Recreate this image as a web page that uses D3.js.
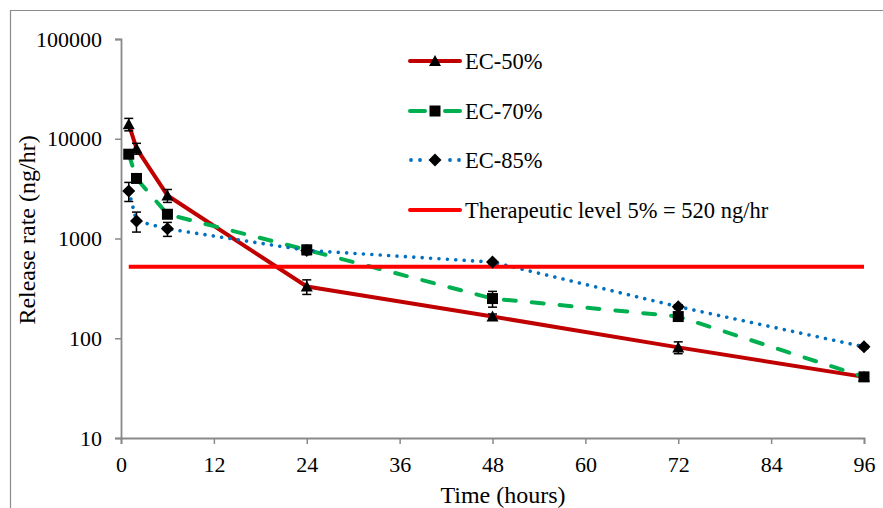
<!DOCTYPE html>
<html>
<head>
<meta charset="utf-8">
<script src="https://cdn.jsdelivr.net/npm/d3@7"></script>
<style>
  html, body { margin: 0; padding: 0; background: #fff; }
  svg { display: block; }
  svg text { font-family: "Liberation Serif", "Times New Roman", Times, Tinos, "DejaVu Serif", serif !important; fill: #000; }
</style>
</head>
<body>
<svg id="chart" width="883" height="508"></svg>
<script>
// ---- Data ----
const hours = [1, 2, 6, 24, 48, 72, 96];
const ec50 = [14000, 8000, 2700, 330, 165, 81, 41];
const ec50Err = [2000, 1000, 400, 55, 10, 11, 2];
const ec70 = [7000, 4000, 1750, 770, 250, 165, 41];
const ec70Err = [400, 300, 150, 80, 45, 12, 3];
const ec85 = [3000, 1500, 1250, 760, 580, 207, 82];
const ec85Err = [650, 340, 200, 60, 20, 10, 3];
const therapeuticLevel = 520;
const therapeuticHours = [1, 96];
const xTicks = [0, 12, 24, 36, 48, 60, 72, 84, 96];
const yTicks = [10, 100, 1000, 10000, 100000];
const seriesNames = ["EC-50%", "EC-70%", "EC-85%"];
const therapeuticName = "Therapeutic level 5% = 520 ng/hr";
const xTitle = "Time (hours)";
const yTitle = "Release rate (ng/hr)";

const FONT = "'Liberation Serif', 'Times New Roman', Times, Tinos, 'DejaVu Serif', serif";

const series = [
  { name: seriesNames[0], values: ec50, err: ec50Err, color: "#C00000", dash: null, marker: "triangle" },
  { name: seriesNames[1], values: ec70, err: ec70Err, color: "#00B050", dash: "12 16", marker: "square" },
  { name: seriesNames[2], values: ec85, err: ec85Err, color: "#0070C0", dash: "0.01 8.4", marker: "diamond" }
];

const svg = d3.select("#chart");
const x = d3.scaleLinear().domain([0, 96]).range([121, 864]);
const y = d3.scaleLog().domain([10, 100000]).range([438, 39]);
const axisColor = "#898989";

// outer chart border (partially visible)
svg.append("path").attr("d", "M10.5,508 V10.5 H883")
  .attr("fill", "none").attr("stroke", "#8c8c8c").attr("stroke-width", 1.2);

// axes
const xAxis = svg.append("g").attr("transform", `translate(0,${y(10)})`)
  .call(d3.axisBottom(x).tickValues(xTicks).tickSize(6).tickPadding(12).tickFormat(d3.format("d")));
const yAxis = svg.append("g").attr("transform", `translate(${x(0)},0)`)
  .call(d3.axisLeft(y).tickValues(yTicks).tickSize(6).tickPadding(13).tickFormat(d3.format("d")));
[xAxis, yAxis].forEach(g => {
  g.attr("font-family", FONT);
  g.select(".domain").attr("stroke", axisColor).attr("stroke-width", 1.8);
  g.selectAll(".tick line").attr("stroke", axisColor).attr("stroke-width", 1.5);
  g.selectAll(".tick text").attr("font-size", 22).style("font-family", FONT);
});
xAxis.selectAll(".tick text").attr("dy", "0.71em");

// axis titles
svg.append("text").attr("x", 503).attr("y", 503).attr("text-anchor", "middle")
  .style("font-family", FONT).attr("font-size", 24).text(xTitle);
svg.append("text").attr("transform", "translate(35,230) rotate(-90)")
  .style("font-family", FONT).attr("text-anchor", "middle").attr("font-size", 24).text(yTitle);

// lines
const line = d3.line().x(d => x(d[0])).y(d => y(d[1]));
series.forEach(s => {
  const pts = hours.map((h, i) => [h, s.values[i]]);
  const p = svg.append("path").datum(pts).attr("d", line)
    .attr("fill", "none").attr("stroke", s.color).attr("stroke-width", s.marker === "diamond" ? 3.6 : 4)
    .attr("stroke-linecap", "round").attr("stroke-linejoin", "round");
  if (s.dash) p.attr("stroke-dasharray", s.dash);
});

// therapeutic line
svg.append("line")
  .attr("x1", x(therapeuticHours[0])).attr("x2", x(therapeuticHours[1]))
  .attr("y1", y(therapeuticLevel)).attr("y2", y(therapeuticLevel))
  .attr("stroke", "#FF0000").attr("stroke-width", 4);

// markers & error bars
function markerPath(type) {
  if (type === "triangle") return "M0,-6 L6,5 L-6,5 Z";
  if (type === "square") return "M-5.5,-5.5 H5.5 V5.5 H-5.5 Z";
  return "M0,-6.5 L6.5,0 L0,6.5 L-6.5,0 Z";
}
[series[2], series[0], series[1]].forEach(s => {
  const g = svg.append("g");
  hours.forEach((h, i) => {
    const cx = x(h), v = s.values[i], e = s.err[i];
    const yt = y(v + e), yb = y(v - e);
    g.append("line").attr("x1", cx).attr("x2", cx).attr("y1", yt).attr("y2", yb)
      .attr("stroke", "#000").attr("stroke-width", 1.5);
    [yt, yb].forEach(yy => g.append("line").attr("x1", cx - 4.5).attr("x2", cx + 4.5)
      .attr("y1", yy).attr("y2", yy).attr("stroke", "#000").attr("stroke-width", 1.5));
    g.append("path").attr("d", markerPath(s.marker))
      .attr("transform", `translate(${cx},${y(v)})`).attr("fill", "#000");
  });
});

// legend
const legendRows = [
  { name: series[0].name, color: series[0].color, marker: "triangle", y: 61 },
  { name: series[1].name, color: series[1].color, marker: "square", y: 111 },
  { name: series[2].name, color: series[2].color, marker: "diamond", y: 160 },
  { name: therapeuticName, color: "#FF0000", marker: null, y: 210 }
];
legendRows.forEach(r => {
  const g = svg.append("g");
  if (r.marker === "square") {
    [[410, 425], [445, 460]].forEach(([a, b]) => g.append("line").attr("x1", a).attr("x2", b)
      .attr("y1", r.y).attr("y2", r.y).attr("stroke", r.color).attr("stroke-width", 4).attr("stroke-linecap", "round"));
  } else if (r.marker === "diamond") {
    [411, 420, 450, 459].forEach(px => g.append("circle").attr("cx", px).attr("cy", r.y).attr("r", 1.9).attr("fill", r.color));
  } else {
    g.append("line").attr("x1", 410).attr("x2", 460).attr("y1", r.y).attr("y2", r.y)
      .attr("stroke", r.color).attr("stroke-width", 4).attr("stroke-linecap", "round");
  }
  if (r.marker) g.append("path").attr("d", markerPath(r.marker))
    .attr("transform", `translate(435,${r.y})`).attr("fill", "#000");
  g.append("text").attr("x", 465).attr("y", r.y).attr("dy", "0.35em")
    .style("font-family", FONT).attr("font-size", 22.5).text(r.name);
});
</script>
</body>
</html>
